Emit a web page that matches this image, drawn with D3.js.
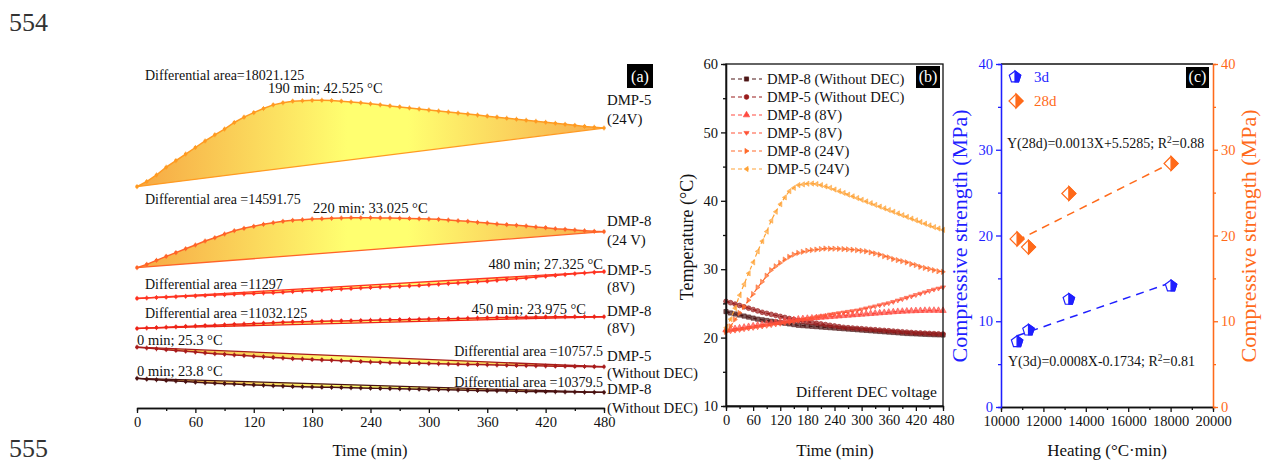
<!DOCTYPE html>
<html><head><meta charset="utf-8">
<script src="https://cdn.jsdelivr.net/npm/d3@7"></script>
<style>
body{margin:0;background:#fff}
svg{display:block}
text{font-family:"Liberation Serif","Times New Roman",serif;fill:#111}
</style>
</head><body>
<svg id="chart" width="1263" height="463"></svg>
<script>
// ---------------- DATA ----------------
const times = [0,10,20,30,40,50,60,70,80,90,100,110,120,130,140,150,160,170,180,190,200,210,220,230,240,250,260,270,280,290,300,310,320,330,340,350,360,370,380,390,400,410,420,430,440,450,460,470,480];

const dmp5_24V = [21.45,22.7,24.3,26.2,27.8,29.4,31.0,32.6,34.1,35.5,37.1,38.4,39.5,40.5,41.4,41.9,42.3,42.4,42.5,42.525,42.45,42.3,42.1,41.9,41.65,41.4,41.15,40.9,40.65,40.4,40.15,39.9,39.65,39.4,39.15,38.9,38.65,38.4,38.15,37.9,37.65,37.4,37.15,36.9,36.65,36.4,36.15,35.95,35.75];
const dmp8_24V = [20.84,21.65,22.63,23.6,24.5,25.47,26.37,27.34,28.15,29.05,29.86,30.43,30.92,31.41,31.81,32.14,32.38,32.54,32.71,32.79,32.87,32.95,33.025,33.0,33.0,32.98,32.95,32.9,32.85,32.78,32.7,32.62,32.46,32.3,32.14,31.9,31.73,31.49,31.33,31.17,31.0,30.76,30.6,30.35,30.19,30.03,29.86,29.7,29.62];
const dmp5_8V = [20.8,20.9,21.0,21.1,21.2,21.3,21.4,21.5,21.6,21.7,21.8,21.9,22.0,22.1,22.2,22.3,22.45,22.6,22.7,22.8,22.95,23.1,23.2,23.35,23.45,23.55,23.65,23.75,23.85,23.95,24.1,24.25,24.4,24.55,24.7,24.85,25.0,25.2,25.4,25.6,25.8,26.0,26.2,26.4,26.6,26.8,27.0,27.15,27.325];
const dmp8_8V = [21.1,21.2,21.3,21.4,21.5,21.6,21.7,21.8,21.9,22.0,22.1,22.2,22.3,22.4,22.5,22.6,22.7,22.75,22.8,22.85,22.9,22.95,23.0,23.05,23.1,23.15,23.2,23.25,23.3,23.35,23.4,23.45,23.5,23.55,23.6,23.65,23.7,23.75,23.8,23.83,23.86,23.89,23.92,23.94,23.96,23.975,23.97,23.96,23.95];
const dmp5_noDEC = [25.3,25.1,24.9,24.7,24.5,24.3,24.1,23.9,23.7,23.55,23.4,23.25,23.1,22.95,22.8,22.65,22.5,22.4,22.3,22.2,22.1,22.0,21.9,21.8,21.7,21.6,21.5,21.45,21.4,21.35,21.3,21.25,21.2,21.15,21.1,21.05,21.0,20.95,20.9,20.85,20.8,20.75,20.7,20.67,20.64,20.61,20.58,20.55,20.52];
const dmp8_noDEC = [23.8,23.6,23.45,23.3,23.15,23.0,22.85,22.7,22.6,22.5,22.4,22.3,22.2,22.1,22.0,21.9,21.8,21.75,21.7,21.65,21.6,21.55,21.5,21.45,21.4,21.35,21.3,21.25,21.2,21.15,21.1,21.05,21.0,20.95,20.9,20.85,20.8,20.75,20.7,20.65,20.6,20.57,20.54,20.51,20.48,20.45,20.42,20.4,20.38];

const areaLabels = ["Differential area=18021.125","Differential area =14591.75","Differential area =11297","Differential area =11032.125","Differential area =10757.5","Differential area =10379.5"];
const peakLabels = ["190 min; 42.525 \u00B0C","220 min; 33.025 \u00B0C","480 min; 27.325 \u00B0C","450 min; 23.975 \u00B0C","0 min; 25.3 \u00B0C","0 min; 23.8 \u00B0C"];
const endLabels1 = ["DMP-5","DMP-8","DMP-5","DMP-8","DMP-5","DMP-8"];
const endLabels2 = ["(24V)","(24 V)","(8V)","(8V)","(Without DEC)","(Without DEC)"];

const legendNamesB = ["DMP-8 (Without DEC)","DMP-5 (Without DEC)","DMP-8 (8V)","DMP-5 (8V)","DMP-8 (24V)","DMP-5 (24V)"];

const timeTicks = [0,60,120,180,240,300,360,420,480];
const timeMinor = [30,90,150,210,270,330,390,450];
const tempTicks = [10,20,30,40,50,60];
const tempMinor = [15,25,35,45,55];

// panel (c)
const heating = [10757.5, 11297, 13200, 18021.125];
const strength3d = [7.6, 8.96, 12.55, 14.1];
const strength28d = [19.6, 18.65, 24.9, 28.4];
const fit3dX = [10757.5, 18021.125];
const fit3dY = [8.3, 14.5];
const fit28dX = [10757.5, 18021.125];
const fit28dY = [19.4, 28.45];
const heatTicks = [10000,12000,14000,16000,18000,20000];
const heatMinor = [11000,13000,15000,17000,19000];
const strengthTicks = [0,10,20,30,40];
const strengthMinor = [5,15,25,35];

// ---------------- LAYOUT ----------------
const svg = d3.select("#chart");
svg.append("rect").attr("width",1263).attr("height",463).attr("fill","#fff");

const defs = svg.append("defs");
const grad = defs.append("linearGradient").attr("id","gA").attr("gradientUnits","userSpaceOnUse")
  .attr("x1",137).attr("x2",604).attr("y1",0).attr("y2",0);
[[0,"#f6a743"],[0.45,"#ffff70"],[0.58,"#ffff70"],[1,"#f7ab4c"]].forEach(s=>
  grad.append("stop").attr("offset",s[0]).attr("stop-color",s[1]));

const txt = (x,y,s,fs,anchor,col)=>svg.append("text").attr("x",x).attr("y",y).attr("font-size",fs)
  .attr("text-anchor",anchor||"start").style("fill",col||"#111").text(s);

// page line numbers
txt(9,31,"554",26,"start","#333");
txt(9,457,"555",26,"start","#333");

// ---------- Panel (a) ----------
const seriesA = [dmp5_24V, dmp8_24V, dmp5_8V, dmp8_8V, dmp5_noDEC, dmp8_noDEC];
const colorsA = ["#ff9a22","#ff6428","#ff3422","#ee2418","#a81c1c","#4a1212"];
const offsetA = [0, 19.15, 26.6, 34.24, 43.0, 49.1];
const xA = d3.scaleLinear().domain([0,480]).range([137,604]);
const yA = d3.scaleLinear().domain([0,40]).range([274.6, 274.6-164]);

const gA = svg.append("g");
seriesA.forEach((vals,i)=>{
  const pts = times.map((t,k)=>[xA(t), yA(vals[k]-offsetA[i])]);
  gA.append("path").attr("d", d3.line()(pts)+"Z").attr("fill","url(#gA)").attr("stroke","none");
  gA.append("line").attr("x1",pts[0][0]).attr("y1",pts[0][1]).attr("x2",pts[pts.length-1][0]).attr("y2",pts[pts.length-1][1])
    .attr("stroke",colorsA[i]).attr("stroke-width",1.3);
  gA.append("path").attr("d", d3.line()(pts)).attr("fill","none").attr("stroke",colorsA[i]).attr("stroke-width",1.5);
  gA.selectAll(null).data(pts).enter().append("circle").attr("cx",d=>d[0]).attr("cy",d=>d[1]).attr("r",1.8).attr("fill",colorsA[i]);
  gA.selectAll(null).data(pts).enter().append("line").attr("x1",d=>d[0]).attr("x2",d=>d[0]).attr("y1",d=>d[1]-2.5).attr("y2",d=>d[1]+2.5)
    .attr("stroke",colorsA[i]).attr("stroke-width",0.8);
});

const fsA = 14;
txt(145,80,areaLabels[0],fsA);
txt(145,204,areaLabels[1],fsA);
txt(145,289,areaLabels[2],fsA);
txt(145,318,areaLabels[3],fsA);
txt(603,356,areaLabels[4],fsA,"end");
txt(603,387,areaLabels[5],fsA,"end");
txt(268,93,peakLabels[0],14.5);
txt(313,213,peakLabels[1],14.5);
txt(603,269,peakLabels[2],14.5,"end");
txt(586,314,peakLabels[3],14.5,"end");
txt(137,345,peakLabels[4],14.5);
txt(137,376,peakLabels[5],14.5);
const endY = [[105,124],[226,245],[275,292],[316,333],[361,378],[394,413]];
endY.forEach((e,i)=>{ txt(607,e[0],endLabels1[i],14.8); txt(607,e[1],endLabels2[i],14.8); });
svg.append("rect").attr("x",627).attr("y",64).attr("width",26).attr("height",24).attr("fill","#000");
txt(640,82,"(a)",16,"middle","#fff");

function styleAxis(a, col){
  a.selectAll("path,line").attr("stroke",col||"#111").attr("stroke-width",1.3);
  a.selectAll("text").attr("font-size",14.5).style("font-family","Liberation Serif").style("fill",col||"#111");
}
const axA = svg.append("g").attr("transform","translate(0,408)");
axA.call(d3.axisBottom(xA).tickValues(timeTicks).tickSize(5).tickSizeOuter(0).tickPadding(4));
axA.append("g").call(d3.axisBottom(xA).tickValues(timeMinor).tickSize(3).tickFormat(""));
styleAxis(axA);
txt(370,456,"Time (min)",16.5,"middle");

// ---------- Panel (b) ----------
const xB = d3.scaleLinear().domain([0,480]).range([726,943]);
const yB = d3.scaleLinear().domain([10,60]).range([406,64]);
const seriesB = [dmp8_noDEC, dmp5_noDEC, dmp8_8V, dmp5_8V, dmp8_24V, dmp5_24V];
const colorsB = ["#4d1616","#9a1c1c","#ff4a40","#ff5236","#ff6a2a","#ffa236"];
const symB = [d3.symbolSquare, d3.symbolCircle, d3.symbolTriangle, "tri-down", "tri-right", "tri-left"];
function markerPath(kind, size){
  if (typeof kind !== "string") return d3.symbol().type(kind).size(size)();
  const r = Math.sqrt(size)*0.62;
  if (kind==="tri-down") return `M${-r},${-r*0.6}L${r},${-r*0.6}L0,${r*0.9}Z`;
  if (kind==="tri-right") return `M${-r*0.6},${-r}L${r*0.9},0L${-r*0.6},${r}Z`;
  return `M${r*0.6},${-r}L${-r*0.9},0L${r*0.6},${r}Z`;
}
const gB = svg.append("g");
seriesB.forEach((vals,i)=>{
  const pts = times.map((t,k)=>[xB(t), yB(vals[k])]);
  gB.append("path").attr("d", d3.line()(pts)).attr("fill","none").attr("stroke",colorsB[i])
    .attr("stroke-width",1.2).attr("stroke-dasharray","4,3");
  gB.selectAll(null).data(pts).enter().append("path").attr("d",markerPath(symB[i],18))
    .attr("transform",d=>`translate(${d[0]},${d[1]})`).attr("fill",colorsB[i]).attr("fill-opacity",0.7)
    .attr("stroke",colorsB[i]).attr("stroke-width",0.6);
});
svg.append("rect").attr("x",726).attr("y",64).attr("width",217).attr("height",342).attr("fill","none").attr("stroke","#111").attr("stroke-width",1.3);
const axBx = svg.append("g").attr("transform","translate(0,406)");
axBx.call(d3.axisBottom(xB).tickValues(timeTicks).tickSize(5).tickSizeOuter(0).tickPadding(4));
axBx.append("g").call(d3.axisBottom(xB).tickValues(timeMinor).tickSize(3).tickFormat(""));
const axBy = svg.append("g").attr("transform","translate(726,0)");
axBy.call(d3.axisLeft(yB).tickValues(tempTicks).tickSize(5).tickSizeOuter(0).tickPadding(3));
axBy.append("g").call(d3.axisLeft(yB).tickValues(tempMinor).tickSize(3).tickFormat(""));
styleAxis(axBx); styleAxis(axBy);
txt(835,456,"Time (min)",17,"middle");
svg.append("text").attr("transform","translate(693,237) rotate(-90)").attr("text-anchor","middle").attr("font-size",18).text("Temperature (\u00B0C)");
txt(937,397,"Different DEC voltage",15.5,"end");
svg.append("rect").attr("x",916).attr("y",66).attr("width",24).attr("height",22).attr("fill","#000");
txt(928,82,"(b)",16,"middle","#fff");
const legY = [79,97,115,133,151,169];
legendNamesB.forEach((n,i)=>{
  svg.append("line").attr("x1",731).attr("x2",762).attr("y1",legY[i]).attr("y2",legY[i]).attr("stroke",colorsB[i])
    .attr("stroke-width",1.2).attr("stroke-dasharray","4,3");
  svg.append("path").attr("d",markerPath(symB[i],18)).attr("transform",`translate(746.5,${legY[i]})`).attr("fill",colorsB[i]).attr("stroke",colorsB[i]).attr("stroke-width",0.6);
  txt(767,legY[i]+5,n,14.6);
});

// ---------- Panel (c) ----------
const xC = d3.scaleLinear().domain([10000,20000]).range([1001,1213]);
const yC = d3.scaleLinear().domain([0,40]).range([407,64]);
const blue = "#1f1fff", orange = "#ff6a1a";
svg.append("line").attr("x1",1001).attr("x2",1213).attr("y1",64).attr("y2",64).attr("stroke","#111").attr("stroke-width",1.3);
const axCx = svg.append("g").attr("transform","translate(0,407)");
axCx.call(d3.axisBottom(xC).tickValues(heatTicks).tickSize(5).tickSizeOuter(0).tickPadding(4).tickFormat(d3.format("d")));
axCx.append("g").call(d3.axisBottom(xC).tickValues(heatMinor).tickSize(3).tickFormat(""));
styleAxis(axCx);
const axCl = svg.append("g").attr("transform","translate(1001,0)");
axCl.call(d3.axisLeft(yC).tickValues(strengthTicks).tickSize(5).tickSizeOuter(0).tickPadding(3));
axCl.append("g").call(d3.axisLeft(yC).tickValues(strengthMinor).tickSize(3).tickFormat(""));
styleAxis(axCl, blue);
const axCr = svg.append("g").attr("transform","translate(1213,0)");
axCr.call(d3.axisRight(yC).tickValues(strengthTicks).tickSize(5).tickSizeOuter(0).tickPadding(3));
axCr.append("g").call(d3.axisRight(yC).tickValues(strengthMinor).tickSize(3).tickFormat(""));
styleAxis(axCr, orange);

svg.append("text").attr("transform","translate(967,236) rotate(-90)").attr("text-anchor","middle").attr("font-size",22).style("fill",blue).text("Compressive strength (MPa)");
svg.append("text").attr("transform","translate(1256,236) rotate(-90)").attr("text-anchor","middle").attr("font-size",22).style("fill",orange).text("Compressive strength (MPa)");
txt(1107,456,"Heating (\u00B0C\u00B7min)",17,"middle");

svg.append("line").attr("x1",xC(fit3dX[0])).attr("y1",yC(fit3dY[0])).attr("x2",xC(fit3dX[1])).attr("y2",yC(fit3dY[1]))
  .attr("stroke",blue).attr("stroke-width",1.5).attr("stroke-dasharray","8,6");
svg.append("line").attr("x1",xC(fit28dX[0])).attr("y1",yC(fit28dY[0])).attr("x2",xC(fit28dX[1])).attr("y2",yC(fit28dY[1]))
  .attr("stroke",orange).attr("stroke-width",1.5).attr("stroke-dasharray","8,6");

const pentR = 6;
const pent = d3.range(5).map(k=>{const a=-Math.PI/2+k*2*Math.PI/5; return [pentR*Math.cos(a), pentR*Math.sin(a)];});
const pentFull = "M"+pent.map(p=>p.join(",")).join("L")+"Z";
const pentHalf = `M${pent[0]}L${pent[1]}L${pent[2]}L0,${pent[2][1]}Z`;
const diaR = 7;
const diaFull = `M0,${-diaR}L${diaR},0L0,${diaR}L${-diaR},0Z`;
const diaHalf = `M0,${-diaR}L${diaR},0L0,${diaR}Z`;
function drawMarker(x,y,full,half,col){
  svg.append("path").attr("d",full).attr("transform",`translate(${x},${y})`).attr("fill","#fff").attr("stroke",col).attr("stroke-width",1.2);
  svg.append("path").attr("d",half).attr("transform",`translate(${x},${y})`).attr("fill",col).attr("stroke",col).attr("stroke-width",1.2);
}
heating.forEach((h,i)=>{
  drawMarker(xC(h),yC(strength3d[i]),pentFull,pentHalf,blue);
  drawMarker(xC(h),yC(strength28d[i]),diaFull,diaHalf,orange);
});
drawMarker(1015,77,pentFull,pentHalf,blue);
txt(1034,82,"3d",15,"start",blue);
drawMarker(1016,101,diaFull,diaHalf,orange);
txt(1034,106,"28d",15,"start",orange);
const eq1 = svg.append("text").attr("x",1007).attr("y",148).attr("font-size",14);
eq1.append("tspan").text("Y(28d)=0.0013X+5.5285; R");
eq1.append("tspan").attr("dy",-5).attr("font-size",9.5).text("2");
eq1.append("tspan").attr("dy",5).text("=0.88");
const eq2 = svg.append("text").attr("x",1008).attr("y",366).attr("font-size",14);
eq2.append("tspan").text("Y(3d)=0.0008X-0.1734; R");
eq2.append("tspan").attr("dy",-5).attr("font-size",9.5).text("2");
eq2.append("tspan").attr("dy",5).text("=0.81");
svg.append("rect").attr("x",1186).attr("y",67).attr("width",23).attr("height",21).attr("fill","#000");
txt(1197.5,82,"(c)",16,"middle","#fff");
</script>
</body></html>
